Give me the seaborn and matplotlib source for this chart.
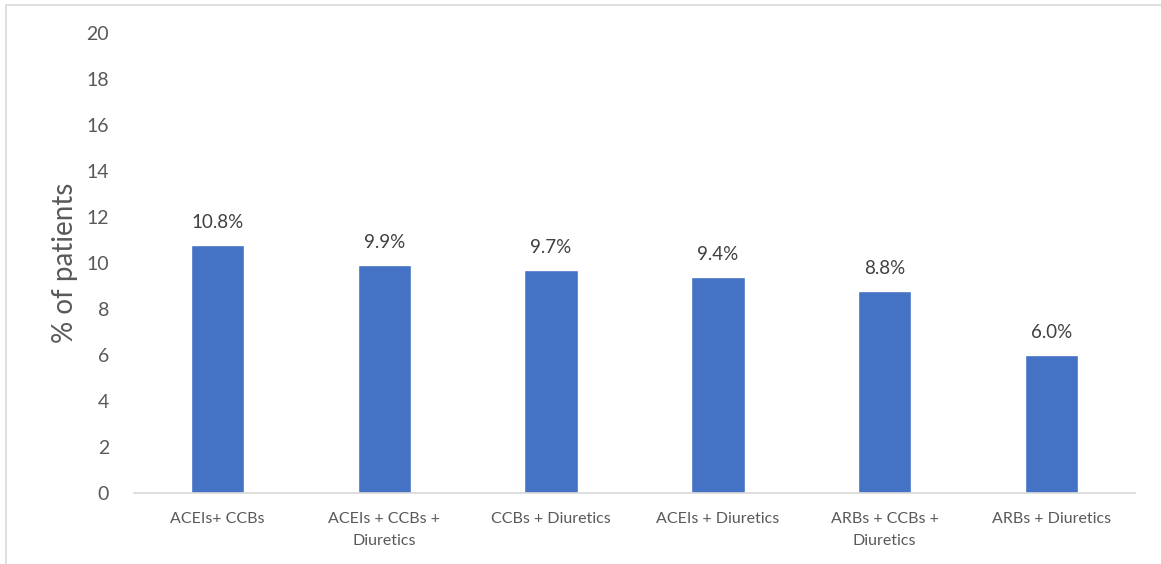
import matplotlib
matplotlib.use("Agg")
import matplotlib.pyplot as plt
import seaborn as sns
import pandas as pd
from matplotlib.patches import Rectangle

# data
combos = ["ACEIs+ CCBs", "ACEIs + CCBs +\nDiuretics", "CCBs + Diuretics",
          "ACEIs + Diuretics", "ARBs + CCBs +\nDiuretics", "ARBs + Diuretics"]
pct_patients = [10.8, 9.9, 9.7, 9.4, 8.8, 6.0]
y_ticks = [0, 2, 4, 6, 8, 10, 12, 14, 16, 18, 20]

sns.set_style("white")
plt.rcParams['font.family'] = ['Lato', 'DejaVu Sans']
text_grey = "#595959"

df = pd.DataFrame({"combo": combos, "pct": pct_patients})

fig = plt.figure(figsize=(11.61, 5.64), dpi=100)
ax = fig.add_axes([0.1154, 0.1259, 0.8622, 0.8156])

sns.barplot(data=df, x="combo", y="pct", color="#4472C4", width=0.32,
            saturation=1, ax=ax)

for p, v in zip(ax.patches, pct_patients):
    ax.annotate(f"{v:.1f}%", (p.get_x() + p.get_width() / 2, p.get_height()),
                xytext=(0, 10), textcoords="offset points",
                ha="center", va="bottom", fontsize=13.5, color="#404040")

ax.set_ylim(0, 20)
ax.set_yticks(y_ticks)
ax.set_xlim(-0.5, len(combos) - 0.5)
ax.tick_params(axis="y", labelsize=14, labelcolor=text_grey, length=0, pad=18)
ax.tick_params(axis="x", labelsize=11.5, labelcolor=text_grey, length=0, pad=14)
for lbl in ax.get_xticklabels():
    lbl.set_linespacing(1.7)
ax.set_xlabel("")
ax.set_ylabel("% of patients", fontsize=20, color=text_grey, labelpad=6)

for side in ["top", "right", "left"]:
    ax.spines[side].set_visible(False)
ax.spines["bottom"].set_color("#D9D9D9")
ax.spines["bottom"].set_linewidth(1.2)

# outer chart frame (only top/left edges fall inside the picture)
fig.patches.append(Rectangle((6 / 1161, -0.05), 1.2, 1 - 5 / 564 + 0.05,
                             transform=fig.transFigure, fill=False,
                             edgecolor="#D9D9D9", linewidth=1.2))

fig.savefig("out.png", dpi=100)
